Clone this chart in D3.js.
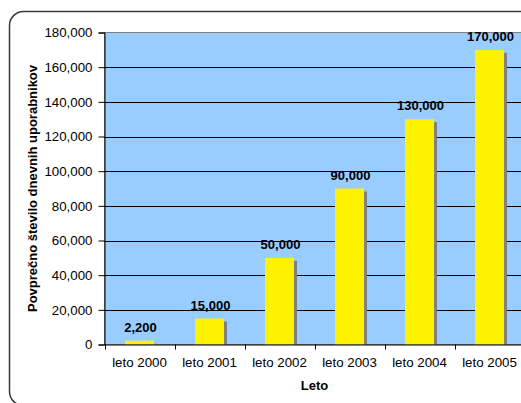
<!DOCTYPE html>
<html>
<head>
<meta charset="utf-8">
<script src="https://cdn.jsdelivr.net/npm/d3@7"></script>
<style>
  html, body { margin: 0; padding: 0; background: #fff; }
  svg { display: block; font-family: "Liberation Sans", Arial, sans-serif; }
</style>
</head>
<body>
<svg id="chart" width="521" height="403"></svg>
<script>
// Daily users per year
const categories = ["leto 2000", "leto 2001", "leto 2002", "leto 2003", "leto 2004", "leto 2005"];
const values = [2200, 15000, 50000, 90000, 130000, 170000];
const yTicks = [0, 20000, 40000, 60000, 80000, 100000, 120000, 140000, 160000, 180000];
const xTitle = "Leto";
const yTitle = "Povprečno število dnevnih uporabnikov";

const svg = d3.select("#chart");
const plot = { left: 104.5, top: 32.5, right: 524.5, bottom: 344.5 };

// outer chart frame with rounded corners
svg.append("rect")
  .attr("x", 9.5).attr("y", 11.5)
  .attr("width", 560).attr("height", 394)
  .attr("rx", 14).attr("ry", 14)
  .attr("fill", "#fff")
  .attr("stroke", "#3a3a3a").attr("stroke-width", 1.5);

const x = d3.scaleBand().domain(categories).range([plot.left, plot.right]).paddingInner(0).paddingOuter(0);
const y = d3.scaleLinear().domain([0, 180000]).range([plot.bottom, plot.top]);

// plot area
svg.append("rect")
  .attr("x", plot.left).attr("y", plot.top)
  .attr("width", plot.right - plot.left).attr("height", plot.bottom - plot.top)
  .attr("fill", "#99CCFF")
  .attr("stroke", "#808080").attr("stroke-width", 1);

// horizontal gridlines
svg.append("g").selectAll("line")
  .data(yTicks.filter(d => d > 0 && d < 180000))
  .join("line")
  .attr("x1", plot.left).attr("x2", plot.right)
  .attr("y1", d => Math.round(y(d)) + 0.5).attr("y2", d => Math.round(y(d)) + 0.5)
  .attr("stroke", "#000").attr("stroke-width", 1);

const barW = x.bandwidth() * 0.415;
const off = 3;

// bar shadows
svg.append("g").selectAll("rect")
  .data(values)
  .join("rect")
  .attr("x", (d, i) => x(categories[i]) + (x.bandwidth() - barW) / 2 + off)
  .attr("y", d => y(d) + off)
  .attr("width", barW)
  .attr("height", d => plot.bottom - y(d) - off)
  .attr("fill", "#808080");

// bars
svg.append("g").selectAll("rect")
  .data(values)
  .join("rect")
  .attr("x", (d, i) => x(categories[i]) + (x.bandwidth() - barW) / 2)
  .attr("y", d => y(d))
  .attr("width", barW)
  .attr("height", d => plot.bottom - y(d))
  .attr("fill", "#FFF200");

// value labels
svg.append("g").selectAll("text")
  .data(values)
  .join("text")
  .attr("x", (d, i) => x(categories[i]) + x.bandwidth() / 2 + 1)
  .attr("y", d => y(d) - 9)
  .attr("text-anchor", "middle")
  .attr("font-size", "13px").attr("font-weight", "bold")
  .attr("fill", "#000")
  .text(d => d3.format(",")(d));

// y axis
const yAxis = svg.append("g")
  .attr("transform", `translate(${plot.left},0)`)
  .call(d3.axisLeft(y).tickValues(yTicks).tickFormat(d3.format(",")).tickSize(6).tickPadding(6));
yAxis.selectAll("text").attr("font-size", "13.3px").attr("font-family", "Liberation Sans, Arial, sans-serif").attr("fill", "#000");
yAxis.selectAll("line, path").attr("stroke", "#000");

// x axis
const xAxis = svg.append("g")
  .attr("transform", `translate(0,${plot.bottom})`)
  .call(d3.axisBottom(x).tickSize(0).tickPadding(13.5));
xAxis.selectAll("text").attr("font-size", "13.3px").attr("font-family", "Liberation Sans, Arial, sans-serif").attr("fill", "#000");
xAxis.select("path").attr("stroke", "#000");
// category boundary ticks
xAxis.append("g").selectAll("line")
  .data(categories)
  .join("line")
  .attr("x1", d => Math.round(x(d)) + 0.5).attr("x2", d => Math.round(x(d)) + 0.5)
  .attr("y1", 0).attr("y2", 5)
  .attr("stroke", "#000");

// axis titles
svg.append("text")
  .attr("x", (plot.left + plot.right) / 2).attr("y", 390)
  .attr("text-anchor", "middle")
  .attr("font-size", "13px").attr("font-weight", "bold")
  .text(xTitle);

svg.append("text")
  .attr("transform", `translate(36.5,${(plot.top + plot.bottom) / 2}) rotate(-90)`)
  .attr("text-anchor", "middle")
  .attr("font-size", "13px").attr("font-weight", "bold")
  .text(yTitle);
</script>
</body>
</html>
